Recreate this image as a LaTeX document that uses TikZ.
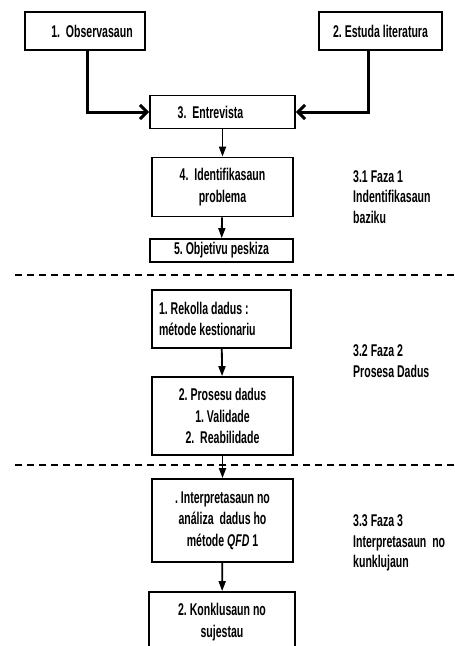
\documentclass[tikz,border=0pt]{standalone}
\usepackage{fontspec}
\setmainfont{Liberation Sans}[FakeStretch=0.62]
\frenchspacing
\usetikzlibrary{arrows.meta}
\tikzset{
  box/.style={draw, line width=1.8pt, align=center, inner sep=0pt,
    font=\bfseries\fontsize{17}{21.5}\selectfont},
  faza/.style={anchor=west, align=left, inner sep=0pt,
    font=\bfseries\fontsize{17}{20.5}\selectfont},
  flow/.style={line width=1.8pt, -{Triangle[length=10pt,width=7pt]}},
  feed/.style={line width=3pt, -{Straight Barb[length=7pt,width=14pt]}},
  sep/.style={line width=1.6pt, dash pattern=on 7pt off 5pt},
}

\begin{document}
\begin{tikzpicture}[x=1pt,y=-1pt]
    \useasboundingbox (0,0) rectangle (455,646);
    \clip (0,0) rectangle (455,646);
    % faza 1
    \node[box, minimum width=120pt, minimum height=38pt] (obs) at (85,31) {\hspace*{14pt}1.\ \ Observasaun};
    \node[box, minimum width=123pt, minimum height=38pt] (lit) at (380.5,31) {2. Estuda literatura};
    \node[box, minimum width=145pt, minimum height=33pt] (ent) at (222.5,112) {3.\ \ Entrevista\hspace*{24pt}};
    \node[box, minimum width=141pt, minimum height=59pt] (idn) at (222.5,187) {4.\ \ Identifikasaun\\problema};
    \node[box, minimum width=143pt, minimum height=23pt] (obj) at (221.5,250.5) {5. Objetivu peskiza};
    \draw[feed] ([xshift=2pt]obs.south) |- (ent.west);
    \draw[feed] ([xshift=-12pt]lit.south) |- (ent.east);
    \draw[flow] (ent) -- (idn);
    \draw[flow] (idn) -- (obj);
    \node[faza] (f1) at (353,197) {3.1 Faza 1\\Indentifikasaun\\baziku};
    \draw[sep] (15,275) -- (455,275);
    % faza 2
    \node[box, minimum width=139pt, minimum height=58pt, text width=125pt, align=flush left] (rek) at (221.5,319) {1. Rekolla dadus :\\métode kestionariu};
    \node[box, minimum width=141pt, minimum height=78pt] (pro) at (222.5,416) {2. Prosesu dadus\\1. Validade\\2.\ \ Reabilidade};
    \draw[flow] (rek) -- (pro);
    \node[faza] (f2) at (353,361) {3.2 Faza 2\\Prosesa Dadus};
    \draw[sep] (15,465) -- (455,465);
    % faza 3
    \node[box, minimum width=141pt, minimum height=83pt] (int) at (222.5,520.5) {. Interpretasaun no\\análiza\ \ dadus ho\\métode \textit{QFD} 1};
    \node[box, minimum width=146pt, minimum height=60pt] (kon) at (222,622) {2. Konklusaun no\\sujestau};
    \draw[flow] (pro) -- (int);
    \draw[flow] (int) -- (kon);
    \node[faza] (f3) at (353,543) {3.3 Faza 3\\Interpretasaun\ \ no\\kunklujaun};
\end{tikzpicture}
\end{document}
